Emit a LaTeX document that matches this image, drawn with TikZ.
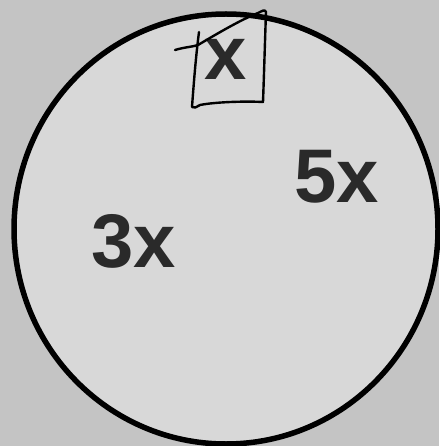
\documentclass[tikz,border=0pt]{standalone}
\usepackage{fontspec}
\setmainfont{Liberation Sans}
\definecolor{bg}{HTML}{C4C4C4}
\definecolor{disc}{HTML}{D8D8D8}
\definecolor{ink}{HTML}{2A2A2A}
\tikzset{
  lbl/.style={text=ink, font=\fontsize{76}{76}\selectfont\bfseries, anchor=base, inner sep=0pt},
  pen/.style={line width=2.4pt, line cap=round, line join=round, black}
}
\begin{document}
\begin{tikzpicture}[x=1pt,y=-1pt]
\fill[bg] (0,0) rectangle (439,446);
\useasboundingbox (0,0) rectangle (439,446);
\draw[line width=5.5pt, fill=disc] (226,229) ellipse [x radius=212, y radius=215];
\node[lbl] (three) at (134,267) {3x};
\node[lbl] (five) at (337,202) {5x};
\node[lbl] (one) at (226,80) {x};
% hand-drawn box
\draw[pen] (175,50) .. controls (185,47) and (192,47) .. (198,45)
  .. controls (215,35) and (240,20) .. (258,13)
  .. controls (262,11) and (265,9) .. (266,12)
  .. controls (265,40) and (264,75) .. (263,102)
  .. controls (245,101) and (215,102) .. (200,105)
  .. controls (196,107) and (194,109) .. (192,107)
  .. controls (194,80) and (196,55) .. (199,32);
\end{tikzpicture}
\end{document}
